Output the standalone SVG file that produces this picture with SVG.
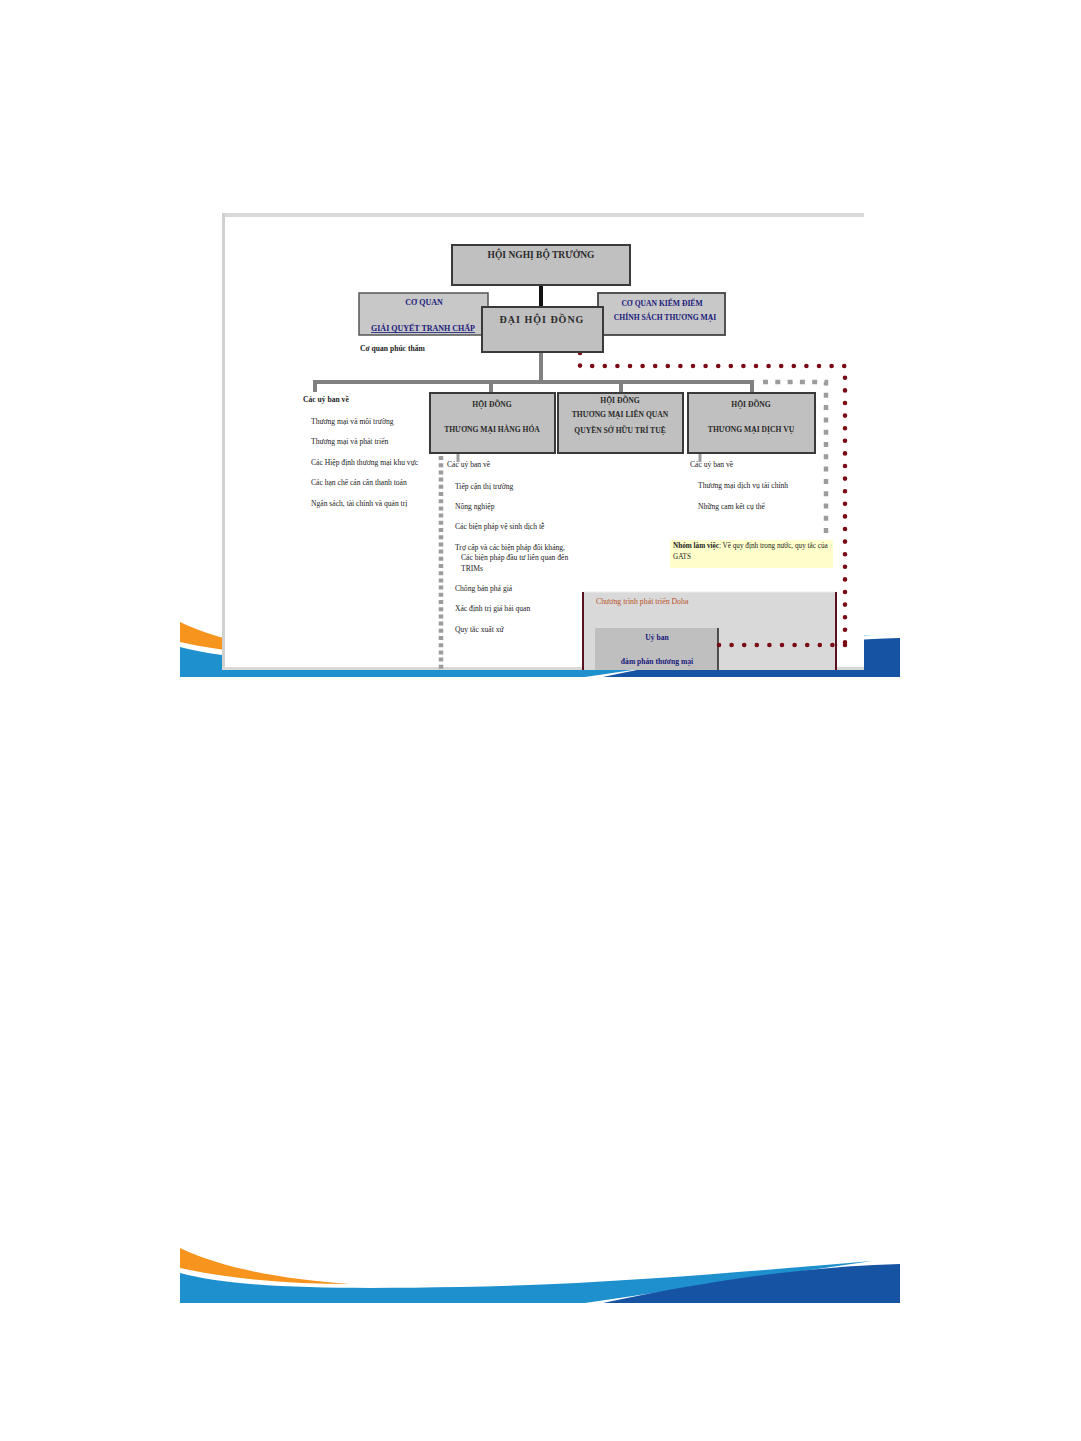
<svg xmlns="http://www.w3.org/2000/svg" width="1081" height="1441" viewBox="0 0 1081 1441">
<style>
.t{font-family:"Liberation Serif","Times New Roman",serif;fill:#222}
.s{font-size:7.6px}
.b{font-weight:bold}
.tt{font-family:"Liberation Serif","Times New Roman",serif;font-weight:bold;fill:#2a2a2a;text-anchor:middle}
.nv{fill:#1a1a7a}
.box{fill:#c0c0c0;stroke:#3a3a3a;stroke-width:2}
.gbar{stroke:#808080;stroke-width:4;fill:none}
.red{stroke:#7a0a14;stroke-width:4.6;stroke-linecap:round;stroke-dasharray:0 12.6;fill:none}
.gsq{stroke:#9c9c9c;stroke-width:4.5;fill:none}
</style>
<defs>
<g id="wave">
<path d="M180,1248 C222,1268 280,1279 350,1284 C290,1284 230,1279 180,1268 Z" fill="#f7941d"/>
<path d="M180,1273 C240,1289 340,1289 460,1287 C620,1284 760,1270 872,1261 L585,1303 L180,1303 Z" fill="#1e90ce"/>
<path d="M603,1303 L900,1303 L900,1264 C820,1266 720,1278 603,1303 Z" fill="#1753a3"/>
</g>
</defs>
<rect width="1081" height="1441" fill="#ffffff"/>
<use href="#wave" transform="translate(0,-626)"/>
<use href="#wave"/>
<g id="screenshot">
<rect x="222" y="213" width="642" height="457" fill="#ffffff"/>
<rect x="222" y="213" width="642" height="4" fill="#d9d9d9"/>
<rect x="222" y="213" width="3" height="457" fill="#d0d0d0"/>
<rect x="222" y="667" width="642" height="3" fill="#d8d8d8"/>
</g>
<g id="connectors">
<line x1="541" y1="285" x2="541" y2="307" stroke="#111" stroke-width="4"/>
<line class="gbar" x1="541" y1="352" x2="541" y2="382"/>
<polyline class="gbar" points="315,392 315,382 752,382 752,393"/>
<line class="gbar" x1="491" y1="382" x2="491" y2="393"/>
<line class="gbar" x1="621" y1="382" x2="621" y2="393"/>
<line x1="458" y1="453" x2="458" y2="462" stroke="#9c9c9c" stroke-width="3"/>
<line x1="700" y1="453" x2="700" y2="462" stroke="#9c9c9c" stroke-width="3"/>
<line class="gsq" x1="441" y1="456" x2="441" y2="670" stroke-dasharray="4 3.2"/>
<polyline class="gsq" points="763,382 826,382 826,534" stroke-dasharray="5 7.3"/>
<polyline class="red" points="580,353 580,366 845,366 845,645 718,645"/>
</g>
<g id="hoi-nghi-bo-truong">
<rect class="box" x="452" y="245" width="178" height="40"/>
<text class="tt" x="541" y="258" font-size="9.5">HỘI NGHỊ BỘ TRƯỞNG</text>
</g>
<g id="co-quan-gqtc">
<rect x="359" y="293" width="129" height="42" fill="#c8c8c8" stroke="#555" stroke-width="1.5"/>
<text class="tt nv" x="424" y="305" font-size="8">CƠ QUAN</text>
<text class="tt nv" x="423" y="331" font-size="8" text-decoration="underline">GIẢI QUYẾT TRANH CHẤP</text>
<text class="t s b" x="360" y="351">Cơ quan phúc thẩm</text>
</g>
<g id="co-quan-kdcstm">
<rect x="598" y="293" width="127" height="42" fill="#c8c8c8" stroke="#444" stroke-width="1.8"/>
<text class="tt nv" x="662" y="306" font-size="7.6">CƠ QUAN KIỂM ĐIỂM</text>
<text class="tt nv" x="665" y="320" font-size="7.6">CHÍNH SÁCH THƯƠNG MẠI</text>
</g>
<g id="dai-hoi-dong">
<rect class="box" x="482" y="307" width="121" height="45"/>
<text class="tt" x="542" y="323" font-size="10" letter-spacing="1">ĐẠI  HỘI  ĐỒNG</text>
</g>
<g id="uy-ban-chung">
<text class="t s b" x="303" y="402">Các uỷ ban về</text>
<text class="t s" x="311" y="424">Thương mại và môi trường</text>
<text class="t s" x="311" y="444">Thương mại và phát triển</text>
<text class="t s" x="311" y="465">Các Hiệp định thương mại khu vực</text>
<text class="t s" x="311" y="485">Các hạn chế cán cân thanh toán</text>
<text class="t s" x="311" y="506">Ngân sách, tài chính và quản trị</text>
</g>
<g id="hd-hang-hoa">
<rect class="box" x="430" y="393" width="125" height="60"/>
<text class="tt" x="492" y="407" font-size="7.6">HỘI ĐỒNG</text>
<text class="tt" x="492" y="432" font-size="7.6">THƯƠNG MẠI HÀNG HÓA</text>
<text class="t s" x="447" y="467">Các uỷ ban về</text>
<text class="t s" x="455" y="489">Tiếp cận thị trường</text>
<text class="t s" x="455" y="509">Nông nghiệp</text>
<text class="t s" x="455" y="529">Các biện pháp vệ sinh dịch tễ</text>
<text class="t s" x="455" y="550">Trợ cấp và các biện pháp đối kháng,</text>
<text class="t s" x="461" y="560">Các biện pháp đầu tư liên quan đến</text>
<text class="t s" x="461" y="571">TRIMs</text>
<text class="t s" x="455" y="591">Chống bán phá giá</text>
<text class="t s" x="455" y="611">Xác định trị giá hải quan</text>
<text class="t s" x="455" y="632">Quy tắc xuất xứ</text>
</g>
<g id="hd-trips">
<rect class="box" x="558" y="393" width="125" height="60"/>
<text class="tt" x="620" y="403" font-size="7.6">HỘI ĐỒNG</text>
<text class="tt" x="620" y="417" font-size="7.6">THƯƠNG MẠI LIÊN QUAN</text>
<text class="tt" x="620" y="433" font-size="7.6">QUYỀN SỞ HỮU TRÍ TUỆ</text>
</g>
<g id="hd-dich-vu">
<rect class="box" x="688" y="393" width="127" height="60"/>
<text class="tt" x="751" y="407" font-size="7.6">HỘI ĐỒNG</text>
<text class="tt" x="751" y="432" font-size="7.6">THƯƠNG MẠI DỊCH VỤ</text>
<text class="t s" x="690" y="467">Các uỷ ban về</text>
<text class="t s" x="698" y="488">Thương mại dịch vụ tài chính</text>
<text class="t s" x="698" y="509">Những cam kết cụ thể</text>
</g>
<g id="nhom-lam-viec">
<rect x="670" y="540" width="163" height="28" fill="#ffffcc"/>
<text class="t" x="673" y="548" font-size="7.2"><tspan font-weight="bold">Nhóm làm việc</tspan>: Về quy định trong nước, quy tắc của</text>
<text class="t" x="673" y="559" font-size="7.2">GATS</text>
</g>
<g id="doha">
<rect x="583" y="592" width="253" height="78" fill="#d9d9d9"/>
<line x1="583" y1="592" x2="836" y2="592" stroke="#eeeeee" stroke-width="1"/>
<line x1="583" y1="592" x2="583" y2="670" stroke="#5a1020" stroke-width="2"/>
<line x1="836" y1="592" x2="836" y2="670" stroke="#5a1020" stroke-width="2"/>
<text class="t" x="596" y="604" font-size="7.8" style="fill:#b8522a">Chương trình phát triển Doha</text>
<rect x="595" y="628" width="123" height="42" fill="#bfbfbf"/>
<line x1="718" y1="628" x2="718" y2="670" stroke="#222" stroke-width="1.5"/>
<text class="tt nv" x="657" y="640" font-size="7.6">Uỷ ban</text>
<text class="tt nv" x="657" y="664" font-size="7.6">đàm phán thương mại</text>
</g>
<polyline class="red" points="845,645 718,645"/>
</svg>
